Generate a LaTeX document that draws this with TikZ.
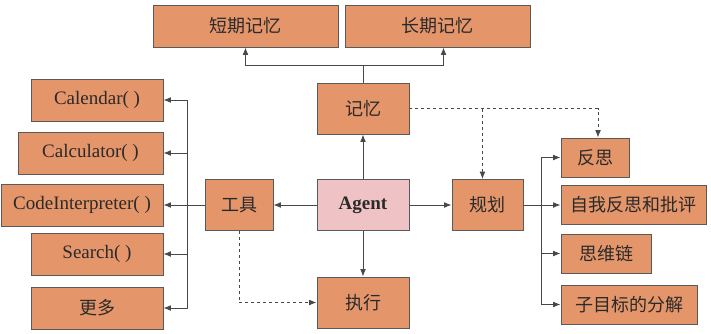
\documentclass[tikz,border=0pt]{standalone}
\usepackage{fontspec}
\setmainfont{Liberation Serif}
\newfontfamily\cjk{Noto Sans CJK SC}
\usepackage{tikz}
\usetikzlibrary{calc,arrows.meta}
\definecolor{boxfill}{HTML}{E4956A}
\definecolor{agentfill}{HTML}{EFC3C5}
\definecolor{edge}{HTML}{5A5A5A}
\definecolor{ink}{HTML}{2A2A2A}

\begin{document}
\begin{tikzpicture}[x=1pt,y=-1pt,
  box/.style={draw=edge,fill=boxfill,line width=0.9pt,text=ink,inner sep=0pt,
    font=\fontsize{19}{21}\selectfont},
  cn/.style={box,font=\cjk\fontsize{18}{20}\selectfont},
  sz/.style 2 args={minimum width=#1pt,minimum height=#2pt},
  wire/.style={draw=edge!80!black,line width=0.8pt},
  feed/.style={wire,-{Latex[length=2.6mm,width=2mm]}},
  hint/.style={feed,dashed}]
\useasboundingbox (0,0) rectangle (711,333);
% centre row
\node[box,sz={92}{51},fill=agentfill,font=\bfseries\fontsize{19}{21}\selectfont]
  (agent) at (363,205) {Agent};
\node[cn,sz={92}{51}] (mem)  at (363,108.5) {记忆};
\node[cn,sz={92}{51}] (exec) at (363,302.5) {执行};
\node[cn,sz={68}{51}] (tool) at (239,205) {工具};
\node[cn,sz={71}{51}] (plan) at (487.5,205) {规划};
% memory kinds
\node[cn,sz={185}{42}] (short) at (245.5,26) {短期记忆};
\node[cn,sz={185}{42}] (long)  at (437.5,26) {长期记忆};
% tools
\node[box,sz={132}{42}] (cal)    at (97,100)   {Calendar( )};
\node[box,sz={145}{42}] (calc)   at (90.5,153) {Calculator( )};
\node[box,sz={162}{42}] (code)   at (82,205)   {CodeInterpreter( )};
\node[box,sz={132}{42}] (search) at (97,254)   {Search( )};
\node[cn,sz={132}{42}]  (more)   at (97,308)   {更多};
% planning steps
\node[cn,sz={68}{39}]  (refl) at (595,157.5) {反思};
\node[cn,sz={145}{39}] (crit) at (633.5,205) {自我反思和批评};
\node[cn,sz={90}{39}]  (cot)  at (606,253.5) {思维链};
\node[cn,sz={136}{39}] (sub)  at (629,304.5) {子目标的分解};

\draw[feed] (agent) -- (mem);
\draw[feed] (agent) -- (exec);
\draw[feed] (agent) -- (tool);
\draw[feed] (agent) -- (plan);

\coordinate (mj) at ($(mem.north)+(0,-17)$);
\draw[wire] (mem.north) -- (mj);
\draw[feed] (mj) -| (short.south);
\draw[feed] (mj) -| ([xshift=6pt]long.south);

\coordinate (tbus) at (187,0);
\draw[wire] (tool.west) -- (tool.west -| tbus);
\foreach \n in {cal,calc,code,search,more}
  \draw[feed] (tool.west -| tbus) |- (\n.east);

\coordinate (pbus) at (541,0);
\draw[wire] (plan.east) -- (plan.east -| pbus);
\foreach \n in {refl,crit,cot,sub}
  \draw[feed] (plan.east -| pbus) |- (\n.west);

\coordinate (dj) at ($(mem.east)+(73,0)$);
\draw[hint] (mem.east) -| ([xshift=3pt]refl.north);
\draw[hint] (dj) -- (dj |- plan.north);
\draw[hint] (tool.south) |- (exec.west);
\end{tikzpicture}
\end{document}
